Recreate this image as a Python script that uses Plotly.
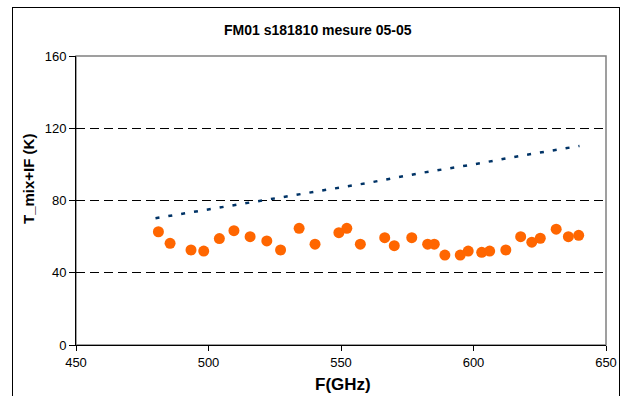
import plotly.graph_objects as go

# Measured points (orange)
freq_meas = [481.1, 485.5, 493.4, 498.2, 504.1, 509.6, 515.7, 522.0, 527.2, 534.2,
             540.2, 549.2, 552.2, 557.3, 566.5, 570.1, 576.7, 582.7, 585.2, 589.2,
             595.0, 598.0, 603.1, 606.1, 612.2, 617.8, 622.0, 625.2, 631.2, 635.8, 639.7]
t_meas = [62.7, 56.3, 52.6, 52.0, 58.9, 63.3, 60.0, 57.6, 52.6, 64.6,
          55.8, 62.2, 64.6, 55.8, 59.4, 55.0, 59.4, 55.8, 55.8, 49.8,
          49.8, 52.0, 51.3, 52.0, 52.6, 60.0, 56.9, 59.1, 64.1, 60.0, 60.7]

# Dotted reference line (navy)
freq_ref = [480, 500, 520, 540, 560, 580, 600, 620, 640]
t_ref = [70.2, 75.1, 80.1, 84.7, 89.7, 95.2, 100.0, 105.3, 110.2]

x_ticks = [450, 500, 550, 600, 650]
y_ticks = [0, 40, 80, 120, 160]

FONT = "Liberation Sans, Arial, sans-serif"
NARROW = "Liberation Sans Narrow, Arial Narrow, Liberation Sans, sans-serif"

fig = go.Figure()
fig.add_trace(go.Scatter(
    x=freq_ref, y=t_ref, mode="lines",
    line=dict(color="#003366", width=2.5, dash="4px,9px"),
    showlegend=False, hoverinfo="skip"))
fig.add_trace(go.Scatter(
    x=freq_meas, y=t_meas, mode="markers",
    marker=dict(color="#FF6600", size=11, line=dict(width=0)),
    showlegend=False))

L, R, T, B = 76, 24, 56, 51
W, H = 630, 396
pw = W - L - R
ph = H - T - B

def px2paper_x(px):
    return (px - L) / pw

def px2paper_y(py):
    return (H - B - py) / ph

fig.update_layout(
    width=W, height=H,
    margin=dict(l=L, r=R, t=T, b=B),
    paper_bgcolor="white", plot_bgcolor="white",
    font=dict(family=FONT, size=13, color="black"),
    xaxis=dict(range=[450, 650], tickvals=x_ticks, ticks="outside", ticklen=5,
               tickcolor="black", showline=True, linecolor="black", linewidth=1,
               showgrid=False, zeroline=False,
               tickfont=dict(size=13, family=FONT)),
    yaxis=dict(range=[0, 160], tickvals=y_ticks, ticks="outside", ticklen=6,
               tickcolor="black", showline=True, linecolor="black", linewidth=1,
               showgrid=True, gridcolor="black", gridwidth=1, griddash="9px,5px",
               zeroline=False,
               tickfont=dict(size=13, family=FONT)),
    annotations=[
        dict(text="<b>FM01 s181810 mesure 05-05</b>", xref="paper", yref="paper",
             x=px2paper_x(318), y=px2paper_y(30), xanchor="center", yanchor="middle",
             showarrow=False, font=dict(size=14, family=FONT)),
        dict(text="<b>F(GHz)</b>", xref="paper", yref="paper",
             x=px2paper_x(343), y=px2paper_y(384), xanchor="center", yanchor="middle",
             showarrow=False, font=dict(size=17, family=FONT)),
        dict(text="<b>T_mix+IF (K)</b>", xref="paper", yref="paper", textangle=-90,
             x=px2paper_x(28), y=px2paper_y(179), xanchor="center", yanchor="middle",
             showarrow=False, font=dict(size=15, family=NARROW)),
    ],
    shapes=[
        dict(type="rect", xref="paper", yref="paper", x0=0, x1=1, y0=0, y1=1,
             line=dict(color="#808080", width=1.5), layer="below"),
    ],
)

post = (
    "document.body.style.margin='0px';"
    "document.body.style.overflow='hidden';"
    "var b=document.createElement('div');"
    "b.style.cssText='position:absolute;left:12px;top:7px;width:608px;height:400px;"
    "border:1px solid black;pointer-events:none;box-sizing:border-box;';"
    "document.body.appendChild(b);"
)

fig.write_html("out.html", post_script=post, config={"displayModeBar": False})
